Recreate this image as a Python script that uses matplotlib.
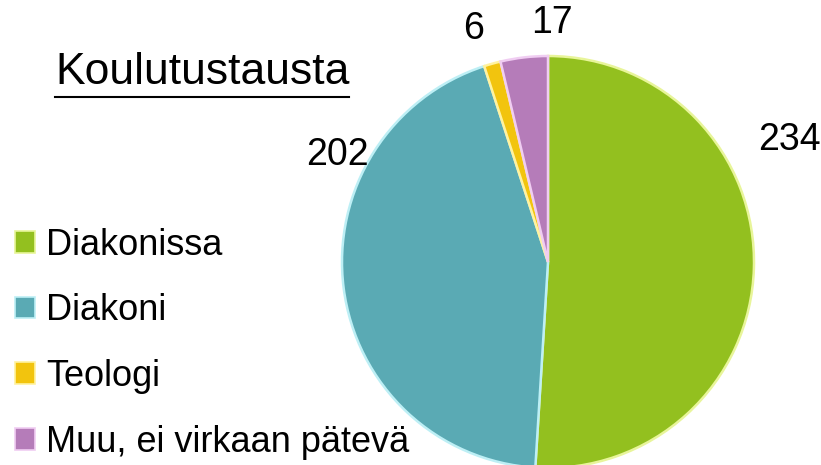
import matplotlib
matplotlib.use("Agg")
import matplotlib.pyplot as plt
from matplotlib.lines import Line2D

plt.rcParams['font.family'] = ['Liberation Sans', 'DejaVu Sans']

# data
categories = ['Diakonissa', 'Diakoni', 'Teologi', 'Muu, ei virkaan pätevä']
values = [234, 202, 6, 17]
colors = ['#93c01f', '#5aaab4', '#f2c40e', '#b57cb9']
edge_colors = ['#e8f59a', '#bdeff5', '#fff2a0', '#f0cdf2']
label_pos = [(1.17, 0.59), (-1.02, 0.52), (-0.36, 1.13), (0.02, 1.16)]

W, H = 821, 465
fig = plt.figure(figsize=(W / 100, H / 100), dpi=100)

# pie axes placed in pixels: center (548, 262 from top), radius 206
cx, cy, r = 548, H - 262, 206
ax = fig.add_axes([(cx - r) / W, (cy - r) / H, 2 * r / W, 2 * r / H])
wedges, _ = ax.pie(values, colors=colors, startangle=90, counterclock=False,
                   wedgeprops=dict(linewidth=1.8))
for w, ec in zip(wedges, edge_colors):
    w.set_edgecolor(ec)
ax.set_xlim(-1, 1)
ax.set_ylim(-1, 1)
ax.axis('off')

for v, (x, y) in zip(values, label_pos):
    ax.text(x, y, str(v), ha='center', va='center', fontsize=27, color='black',
            clip_on=False)

# title with underline
title = fig.text(55 / W, 1 - 73 / H, 'Koulutustausta', fontsize=32,
                 ha='left', va='center')
fig.canvas.draw()
bb = title.get_window_extent(fig.canvas.get_renderer())
fig.add_artist(Line2D([bb.x0 / W, bb.x1 / W], [(H - 97) / H, (H - 97) / H],
                      color='black', lw=1.5))

leg = fig.legend(wedges, categories, loc='upper left',
                 bbox_to_anchor=(-0.008, 1 - 206 / H), frameon=False,
                 fontsize=26, handlelength=0.55, handleheight=0.55,
                 handletextpad=0.3, labelspacing=0.85, borderaxespad=0.2)
for h in leg.legend_handles:
    h.set_linewidth(1.2)

fig.savefig('out.png', dpi=100)
